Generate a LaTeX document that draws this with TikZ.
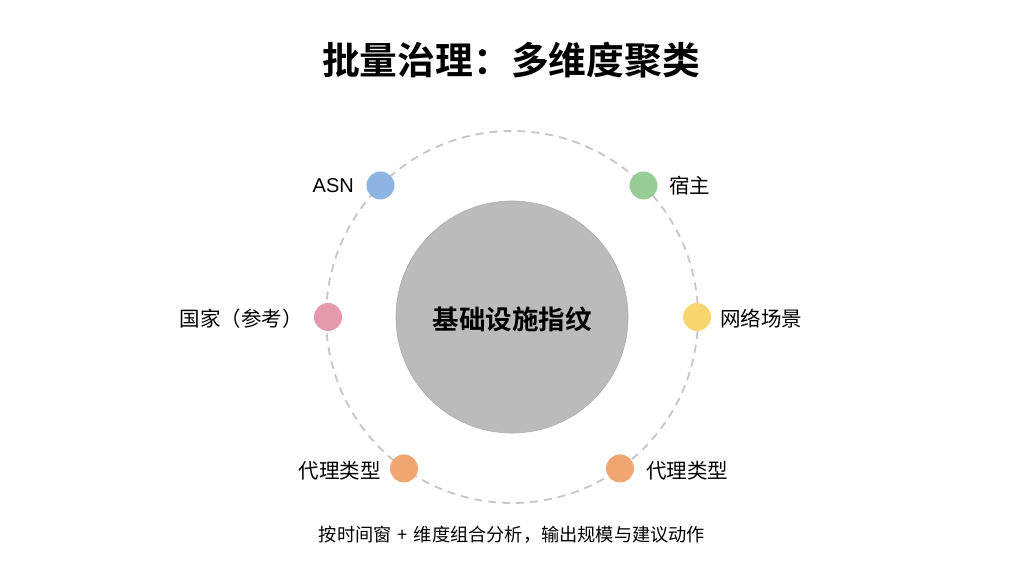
\documentclass[tikz,border=0pt]{standalone}
\usepackage{fontspec}
\usetikzlibrary{calc}
\setmainfont{Noto Sans CJK SC}
\newfontfamily\cjkbold{Noto Sans CJK SC Bold}
\newfontfamily\latinsans{Liberation Sans}
\definecolor{dotblue}{HTML}{8DB4E2}
\definecolor{dotgreen}{HTML}{97CE97}
\definecolor{dotpink}{HTML}{E599AD}
\definecolor{dotyellow}{HTML}{F9D66F}
\definecolor{dotorange}{HTML}{F0A670}
\definecolor{hubgray}{HTML}{BBBBBB}
\definecolor{ringgray}{HTML}{C6C6C6}
\tikzset{
  dimdot/.style={circle, minimum size=28pt, inner sep=0pt, draw=none},
  lbl/.style={font=\fontsize{20.5}{24}\selectfont, text=black, inner sep=0pt},
}
\begin{document}
\begin{tikzpicture}[x=1pt,y=-1pt]
\useasboundingbox[fill=white] (0,0) rectangle (1024,572);
\coordinate (c) at (512,317);
\draw[ringgray, line width=1.8pt, dash pattern=on 8pt off 6pt] (c) circle[radius=186];
\node[circle, fill=hubgray, draw=hubgray!92!black, line width=0.6pt, minimum size=232pt, inner sep=0pt] (hub) at (c) {};
\node[font=\cjkbold\fontsize{26.5}{30}\selectfont] (hubtxt) at (512,319) {基础设施指纹};
\node[font=\cjkbold\fontsize{37.8}{40}\selectfont] (title) at (511,60) {批量治理：多维度聚类};
\node[dimdot, fill=dotblue] (asn) at ($(c)+(-135:186)$) {};
\node[dimdot, fill=dotgreen] (host) at ($(c)+(-45:186)$) {};
\node[dimdot, fill=dotpink] (country) at ($(c)+(180:184)$) {};
\node[dimdot, fill=dotyellow] (net) at ($(c)+(0:185)$) {};
\node[dimdot, fill=dotorange] (proxyl) at ($(c)+(125.5:186)$) {};
\node[dimdot, fill=dotorange] (proxyr) at ($(c)+(54.5:186)$) {};
\node[lbl, anchor=east, font=\latinsans\fontsize{20}{24}\selectfont] (asnl) at (354,186) {ASN};
\node[lbl, anchor=west] (hostl) at (669,186) {宿主};
\node[lbl, anchor=east] (countryl) at (303,319) {国家（参考）};
\node[lbl, anchor=west] (netl) at (720,319) {网络场景};
\node[lbl, anchor=east] (proxyll) at (381,471) {代理类型};
\node[lbl, anchor=west] (proxyrl) at (646,471) {代理类型};
\node[font=\fontsize{18.2}{21}\selectfont, inner sep=0pt] (foot) at (512,535) {按时间窗\hspace{6pt}+\hspace{6pt}维度组合分析，输出规模与建议动作};
\end{tikzpicture}
\end{document}
